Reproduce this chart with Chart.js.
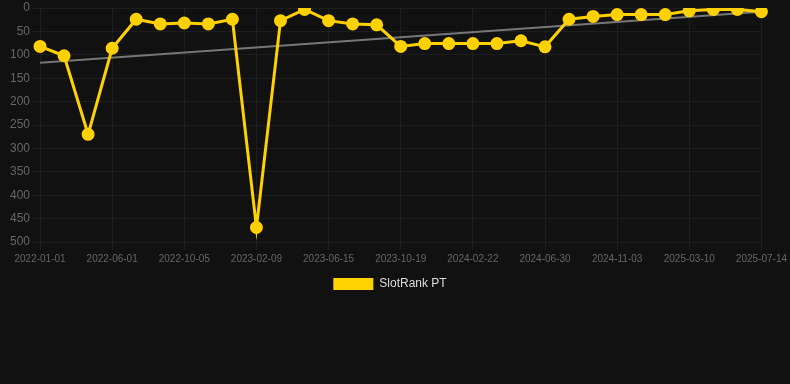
<!DOCTYPE html>
<html>
<head>
<meta charset="utf-8">
<script src="https://cdn.jsdelivr.net/npm/chart.js@4"></script>
<style>
  html, body { margin: 0; padding: 0; background: #111111; }
  #wrap { width: 790px; height: 300px; }
</style>
</head>
<body>
<div id="wrap"><canvas id="chart"></canvas></div>
<script>
// dates of each sample (only every 3rd one is shown on the axis)
const dates = [
    '2022-01-01', '2022-02-20', '2022-04-11', '2022-06-01', '2022-07-13', '2022-08-24',
    '2022-10-05', '2022-11-16', '2022-12-28', '2023-02-09', '2023-03-23', '2023-05-04',
    '2023-06-15', '2023-07-27', '2023-09-07', '2023-10-19', '2023-11-30', '2024-01-11',
    '2024-02-22', '2024-04-05', '2024-05-18', '2024-06-30', '2024-08-11', '2024-09-22',
    '2024-11-03', '2024-12-15', '2025-01-26', '2025-03-10', '2025-04-21', '2025-06-02',
    '2025-07-14'
];

// rank values (lower is better)
const slotRank = [
    82, 102, 270, 86, 24, 34, 32, 34, 24, 469, 27, 3, 27, 34, 36, 82,
    76, 76, 76, 76, 70, 83, 24, 18, 14, 14, 14, 6, 3, 3, 8
];

// trend line endpoints, gaps in between
const trend = dates.map(() => null);
trend[0] = 117;
trend[dates.length - 1] = 8;

const yTicks = { min: 0, max: 500, step: 50 };

Chart.defaults.font.family = 'Arial, "Liberation Sans", sans-serif';

new Chart(document.getElementById('chart'), {
    type: 'line',
    data: {
        labels: dates,
        datasets: [
            {
                label: 'SlotRank PT',
                data: slotRank,
                borderColor: '#FFD100',
                backgroundColor: '#FFD100',
                borderWidth: 3,
                pointRadius: 5,
                pointHoverRadius: 5,
                tension: 0
            },
            {
                label: 'trend',
                data: trend,
                borderColor: '#777777',
                borderWidth: 2,
                pointRadius: 0,
                spanGaps: true
            }
        ]
    },
    options: {
        responsive: true,
        maintainAspectRatio: false,
        animation: false,
        layout: { padding: { left: 8, top: 0, right: 18 } },
        plugins: {
            tooltip: { enabled: false },
            legend: {
                position: 'bottom',
                labels: {
                    color: '#dddddd',
                    boxWidth: 40,
                    boxHeight: 12,
                    font: { size: 12 },
                    generateLabels: chart => Chart.defaults.plugins.legend.labels
                        .generateLabels(chart)
                        .filter(item => item.text !== 'trend')
                        .map(item => Object.assign(item, { lineWidth: 0 }))
                }
            }
        },
        scales: {
            x: {
                grid: { color: '#1e1e1e' },
                border: { color: '#1e1e1e' },
                ticks: {
                    color: '#666666',
                    font: { size: 10 },
                    maxRotation: 0,
                    autoSkip: true,
                    maxTicksLimit: 11
                }
            },
            y: {
                reverse: true,
                min: yTicks.min,
                max: yTicks.max,
                grid: { color: '#1e1e1e' },
                border: { display: false },
                ticks: {
                    stepSize: yTicks.step,
                    padding: 2,
                    color: '#666666',
                    font: { size: 12, lineHeight: 0.2 }
                }
            }
        }
    }
});
</script>
</body>
</html>
